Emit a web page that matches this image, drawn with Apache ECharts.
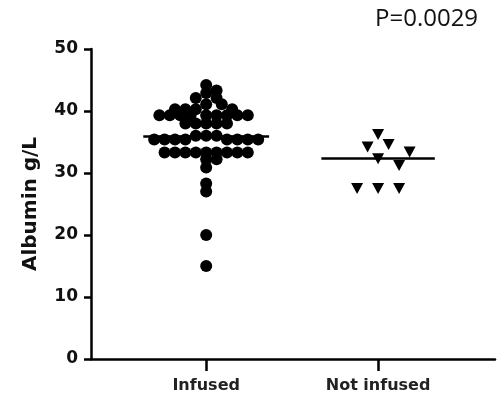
<!DOCTYPE html>
<html>
<head>
<meta charset="utf-8">
<script src="https://cdn.jsdelivr.net/npm/echarts@6/dist/echarts.min.js"></script>
<style>
  html, body { margin: 0; padding: 0; background: #fff; }
  #chart { width: 500px; height: 401px; }
</style>
</head>
<body>
<div id="chart"></div>
<script>
// groups on the x axis
var categories = ['Infused', 'Not infused'];
var pValueText = 'P=0.0029';

// albumin values (g/L)
var infused = [
  44.2, 43.3, 42.9, 42.1, 42.1, 41.1, 41.1,
  40.3, 40.3, 40.3, 40.3,
  39.3, 39.3, 39.3, 39.3, 39.3, 39.3, 39.3, 39.3, 39.3,
  38, 38, 38, 38, 38,
  36, 36, 36,
  35.4, 35.4, 35.4, 35.4, 35.4, 35.4, 35.4, 35.4,
  33.3, 33.3, 33.3, 33.3, 33.3, 33.3, 33.3, 33.3, 33.3,
  32.2, 32.2, 30.9, 28.3, 27, 20, 15
];
var notInfused = [36.2, 34.6, 34.2, 33.4, 32.3, 31.2, 27.5, 27.5, 27.5];

function median(arr) {
  var s = arr.slice().sort(function (a, b) { return a - b; });
  var m = Math.floor(s.length / 2);
  return s.length % 2 ? s[m] : (s[m - 1] + s[m]) / 2;
}

// spread points sideways so they don't pile up (simple beeswarm in pixel space)
// step: sideways step in px, gapX/gapY: half-axes of the no-overlap ellipse
function beeswarm(values, step, gapX, gapY, pxX, pxY) {
  var placed = [];
  return values.map(function (v) {
    var py = v * pxY;
    for (var k = 0; k < 200; k++) {
      var off = (k % 2 ? 1 : -1) * Math.ceil(k / 2) * step;
      var ok = placed.every(function (p) {
        var dx = (p[0] - off) / gapX, dy = (p[1] - py) / gapY;
        return dx * dx + dy * dy >= 0.999;
      });
      if (ok) {
        placed.push([off, py]);
        return off / pxX;
      }
    }
    return 0;
  });
}

var chart = echarts.init(document.getElementById('chart'));

var option = {
  animation: false,
  backgroundColor: '#fff',
  title: {
    text: pValueText,
    left: 370,
    top: 2,
    textStyle: { fontFamily: 'Open Sans', fontSize: 24, fontWeight: 'normal', color: '#111' }
  },
  grid: { left: 91, right: 5, top: 49, bottom: 42 },
  xAxis: {
    type: 'value',
    min: -0.67,
    max: 1.68,
    splitLine: { show: false },
    axisLine: { show: true, onZero: false, lineStyle: { color: '#000', width: 2.5 } },
    axisTick: { show: true, customValues: [0, 1], length: 12, lineStyle: { color: '#000', width: 2.5 } },
    axisLabel: {
      customValues: [0, 1],
      margin: 19,
      fontFamily: 'DejaVu Sans',
      fontWeight: 'bold',
      fontSize: 16,
      color: '#222',
      formatter: function (v) { return categories[Math.round(v)] || ''; }
    }
  },
  yAxis: {
    type: 'value',
    min: 0,
    max: 50,
    interval: 10,
    name: 'Albumin g/L',
    nameLocation: 'middle',
    nameGap: 50,
    nameTextStyle: { fontFamily: 'DejaVu Sans', fontWeight: 'bold', fontSize: 20, color: '#111' },
    splitLine: { show: false },
    axisLine: { show: true, onZero: false, lineStyle: { color: '#000', width: 2.5 } },
    axisTick: { show: true, length: 7, lineStyle: { color: '#000', width: 2.5 } },
    axisLabel: {
      margin: 13,
      fontFamily: 'DejaVu Sans',
      fontWeight: 'bold',
      fontSize: 17,
      color: '#111'
    }
  },
  series: []
};

chart.setOption(option);

// pixel scale of the axes, used for the swarm layout
var p0 = chart.convertToPixel({ gridIndex: 0 }, [0, 0]);
var p1 = chart.convertToPixel({ gridIndex: 0 }, [1, 10]);
var pxX = Math.abs(p1[0] - p0[0]);
var pxY = Math.abs(p1[1] - p0[1]) / 10;

function groupSeries(values, center, symbol, size, rotate, swarm, halfLine) {
  var offs = beeswarm(values, swarm[0], swarm[1], swarm[2], pxX, pxY);
  var med = median(values);
  return {
    type: 'scatter',
    symbol: symbol,
    symbolSize: size,
    symbolRotate: rotate,
    itemStyle: { color: '#000', opacity: 1 },
    data: values.map(function (v, i) { return [center + offs[i], v]; }),
    markLine: {
      silent: true,
      symbol: 'none',
      label: { show: false },
      lineStyle: { color: '#000', width: 2.5, type: 'solid' },
      data: [[{ coord: [center - halfLine, med] }, { coord: [center + halfLine, med] }]]
    }
  };
}

chart.setOption({
  series: [
    groupSeries(infused, 0, 'circle', 12, 0, [5.2, 10.4, 6.5], 0.366),
    groupSeries(notInfused, 1, 'triangle', [12, 11], 180, [10.5, 21, 10], 0.33)
  ]
});
</script>
</body>
</html>
